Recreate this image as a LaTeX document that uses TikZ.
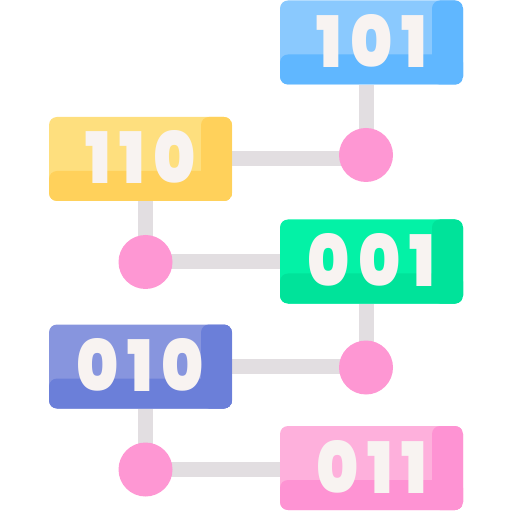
\documentclass[tikz,border=0pt]{standalone}
\usepackage{fontspec}
\setmainfont{Poppins}[BoldFont={Poppins Black}]
\usetikzlibrary{backgrounds}

\definecolor{bluelight}{HTML}{8AC9FE}
\definecolor{bluedark}{HTML}{60B7FF}
\definecolor{yellowlight}{HTML}{FEDF7E}
\definecolor{yellowdark}{HTML}{FFD15B}
\definecolor{greenlight}{HTML}{03F2A6}
\definecolor{greendark}{HTML}{00E39A}
\definecolor{violetlight}{HTML}{8795DE}
\definecolor{violetdark}{HTML}{6B7FD9}
\definecolor{pinklight}{HTML}{FEB0DC}
\definecolor{pinkdark}{HTML}{FE93D3}
\definecolor{dotpink}{HTML}{FE97D3}
\definecolor{linkgray}{HTML}{E2DEE1}
\definecolor{digitwhite}{HTML}{F8F3F1}

\tikzset{
  binbox/.style 2 args={rounded corners=4pt, minimum width=91.5pt, minimum height=42pt,
    inner sep=0pt, fill=#1, text=digitwhite, text height=25pt, text depth=0pt,
    font=\fontsize{35.5}{35.5}\selectfont\bfseries\addfontfeatures{FakeStretch=0.9,LetterSpace=12,Kerning=Off},
    path picture={
      \fill[#2] (path picture bounding box.south west) rectangle ([yshift=15pt]path picture bounding box.south east);
      \fill[#2] ([xshift=-15.5pt]path picture bounding box.north east) rectangle (path picture bounding box.south east);
    }},
  dot/.style={circle, fill=dotpink, minimum size=27pt, inner sep=0pt},
  link/.style={linkgray, line width=7.5pt}
}

\begin{document}
\begin{tikzpicture}[x=0.5pt, y=-0.5pt]
  \useasboundingbox (0,0) rectangle (512,512);

  \node[binbox={bluelight}{bluedark}] (b101) at (371.5,42.5) {101};
  \node[binbox={yellowlight}{yellowdark}] (b110) at (140.5,159) {110};
  \node[binbox={greenlight}{greendark}] (b001) at (371.5,261.5) {001};
  \node[binbox={violetlight}{violetdark}] (b010) at (140.5,366.5) {010};
  \node[binbox={pinklight}{pinkdark}] (b011) at (371.5,468) {011};

  \foreach \n/\x/\y in {1/366/155,2/145.5/262,3/366/367.5,4/145.5/469.5}
    \node[dot] (c\n) at (\x,\y) {};

  \begin{pgfonlayer}{background}
    \draw[link] (b101.south -| c1.center) -- (c1.center);
    \draw[link] (b110.east) -- (b110.east -| c1.center);
    \draw[link] (b110.south -| c2.center) -- (c2.center);
    \draw[link] (c2.center) -- (c2.center -| b001.west);
    \draw[link] (b001.south -| c3.center) -- (c3.center);
    \draw[link] (b010.east) -- (b010.east -| c3.center);
    \draw[link] (b010.south -| c4.center) -- (c4.center);
    \draw[link] (c4.center) -- (c4.center -| b011.west);
  \end{pgfonlayer}
\end{tikzpicture}
\end{document}
